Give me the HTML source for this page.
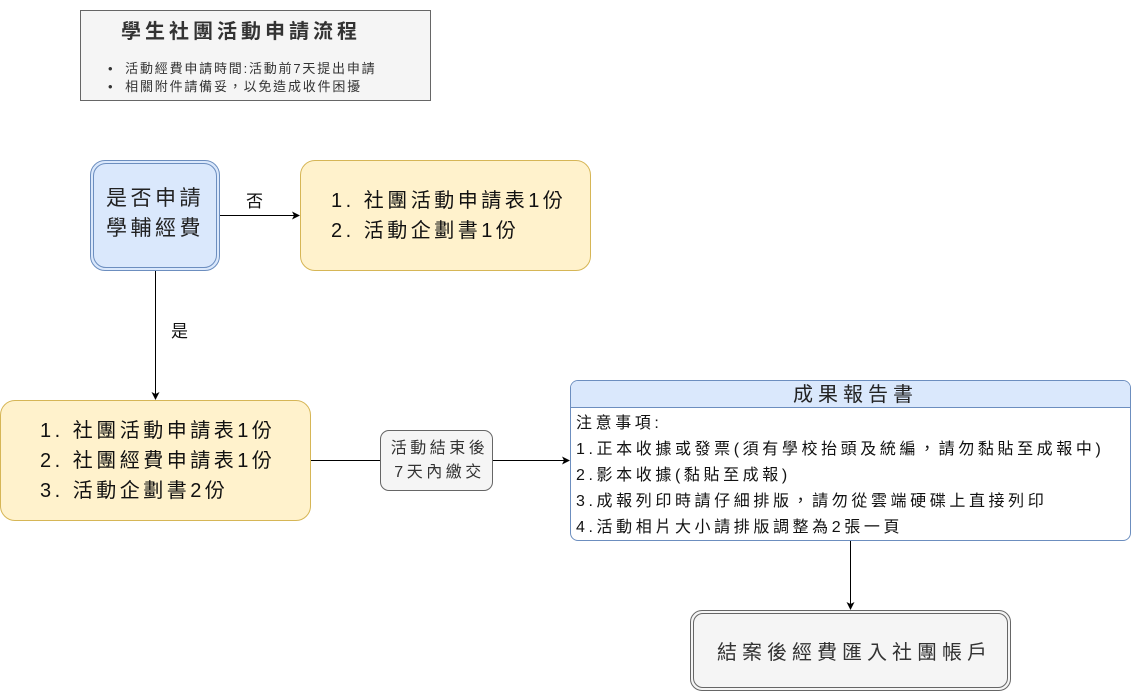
<!DOCTYPE html>
<html><head><meta charset="utf-8"><style>
body{margin:0;width:1131px;height:691px;background:#fff;position:relative;overflow:hidden;font-family:"Liberation Sans","Noto Sans CJK TC",sans-serif;}
.a{position:absolute;box-sizing:border-box;}
.t{position:absolute;white-space:nowrap;letter-spacing:0.22em;}
</style></head><body>
<div class="a" style="left:80px;top:10px;width:351px;height:91px;background:#f5f5f5;border:1px solid #666;"></div>
<div class="t" style="left:121px;top:15px;font-size:20px;font-weight:bold;color:#333;letter-spacing:4px;">學生社團活動申請流程</div>
<div class="t" style="left:108px;top:60px;font-size:13px;color:#333;line-height:18px;letter-spacing:1.8px;">•&nbsp;&nbsp;活動經費申請時間:活動前7天提出申請<br>•&nbsp;&nbsp;相關附件請備妥，以免造成收件困擾</div>

<div class="a" style="left:90px;top:160px;width:130px;height:111px;background:#dae8fc;border:1px solid #6c8ebf;border-radius:15px;"></div>
<div class="a" style="left:93px;top:163px;width:124px;height:105px;border:1px solid #6c8ebf;border-radius:13px;"></div>
<div class="t" style="left:106px;top:184px;font-size:21px;line-height:30px;color:#222;letter-spacing:3.5px;">是否申請<br>學輔經費</div>

<div class="a" style="left:300px;top:160px;width:291px;height:111px;background:#fff2cc;border:1px solid #d6b656;border-radius:15px;"></div>
<div class="t" style="left:331px;top:186px;font-size:20px;line-height:30px;color:#111;letter-spacing:3.5px;">1.&nbsp;社團活動申請表1份<br>2.&nbsp;活動企劃書1份</div>

<div class="a" style="left:0px;top:400px;width:311px;height:121px;background:#fff2cc;border:1px solid #d6b656;border-radius:15px;"></div>
<div class="t" style="left:40px;top:416px;font-size:20px;line-height:30px;color:#111;letter-spacing:3.5px;">1.&nbsp;社團活動申請表1份<br>2.&nbsp;社團經費申請表1份<br>3.&nbsp;活動企劃書2份</div>

<div class="a" style="left:380px;top:430px;width:113px;height:61px;background:#f5f5f5;border:1px solid #666;border-radius:9px;"></div>
<div class="t" style="left:383px;top:437px;width:113px;text-align:center;font-size:16px;line-height:24px;color:#333;letter-spacing:3.5px;">活動結束後<br>7天內繳交</div>

<div class="a" style="left:570px;top:380px;width:561px;height:161px;background:#fff;border:1px solid #6c8ebf;border-radius:8px;overflow:hidden;">
<div style="height:26px;background:#dae8fc;border-bottom:1px solid #6c8ebf;"></div>
</div>
<div class="t" style="left:575px;top:380px;width:561px;text-align:center;font-size:20px;line-height:30px;color:#222;letter-spacing:5px;">成果報告書</div>
<div class="t" style="left:576px;top:411px;font-size:16px;line-height:26px;color:#111;letter-spacing:3.6px;">注意事項:<br>1.正本收據或發票(須有學校抬頭及統編，請勿黏貼至成報中)<br>2.影本收據(黏貼至成報)<br>3.成報列印時請仔細排版，請勿從雲端硬碟上直接列印<br>4.活動相片大小請排版調整為2張一頁</div>

<div class="a" style="left:690px;top:610px;width:321px;height:81px;background:#f5f5f5;border:1px solid #666;border-radius:12px;"></div>
<div class="a" style="left:693px;top:613px;width:315px;height:75px;border:1px solid #666;border-radius:10px;"></div>
<div class="t" style="left:694px;top:636px;width:321px;text-align:center;font-size:20px;color:#333;letter-spacing:5px;">結案後經費匯入社團帳戶</div>

<svg class="a" style="left:0;top:0" width="1131" height="691">
<defs><marker id="m" markerWidth="8" markerHeight="8" refX="7" refY="4" orient="auto" markerUnits="userSpaceOnUse"><path d="M0,0 L8,4 L0,8 L2,4 Z" fill="#000"/></marker></defs>
<g stroke="#000" stroke-width="1" fill="none">
<line x1="220" y1="215.5" x2="299" y2="215.5" marker-end="url(#m)"/>
<line x1="155.5" y1="271" x2="155.5" y2="399" marker-end="url(#m)"/>
<line x1="311" y1="460.5" x2="380" y2="460.5"/>
<line x1="493" y1="460.5" x2="569" y2="460.5" marker-end="url(#m)"/>
<line x1="850.5" y1="541" x2="850.5" y2="609" marker-end="url(#m)"/>
</g>
<text x="246" y="207" font-size="17" fill="#111" font-family="Liberation Sans,Noto Sans CJK TC,sans-serif">否</text>
<text x="171" y="337" font-size="17" fill="#111" font-family="Liberation Sans,Noto Sans CJK TC,sans-serif">是</text>
</svg>
</body></html>
